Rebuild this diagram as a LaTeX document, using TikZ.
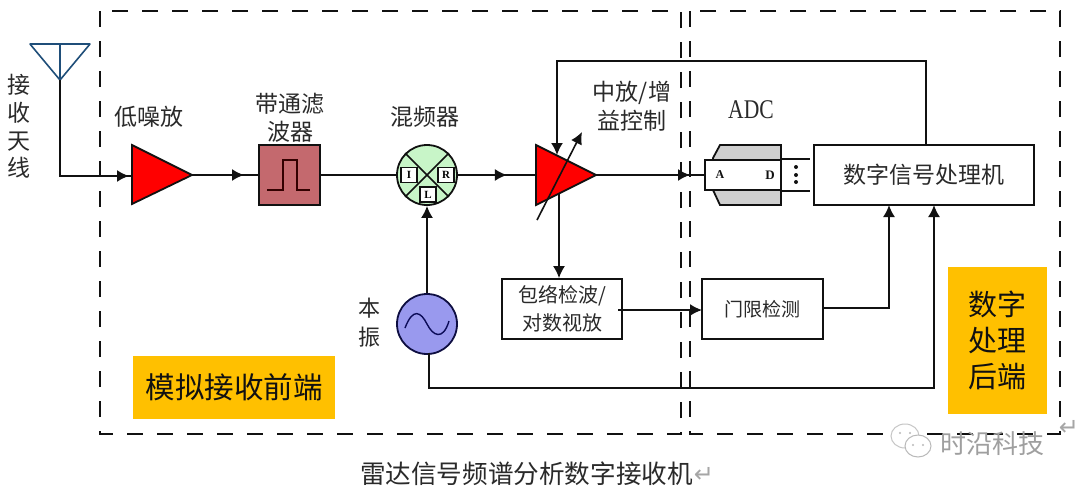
\documentclass[tikz,border=0pt]{standalone}
\usepackage{fontspec}
\setmainfont{Noto Sans CJK SC}
\newfontfamily\latinserif{Liberation Serif}
\newfontfamily\dejavu{DejaVu Sans}
\usetikzlibrary{arrows.meta,decorations.markings}
\newcommand{\pxsize}[1]{\fontsize{#1}{#1}\selectfont}
\definecolor{ink}{HTML}{111111}
\definecolor{antblue}{HTML}{1F4E79}
\definecolor{filterred}{HTML}{C4696E}
\definecolor{mixgreen}{HTML}{C8F5C8}
\definecolor{lopurple}{HTML}{9999EE}
\definecolor{tagorange}{HTML}{FFC000}
\definecolor{adcgray}{HTML}{CFCFCF}
\definecolor{lbl}{HTML}{2A2A2A}
\tikzset{
  x=1pt,y=-1pt,
  wire/.style={draw=ink,line width=1.7pt},
  tipend/.style={-{Latex[length=12pt,width=12pt]}},
  midtip/.style={postaction={decorate,decoration={markings,mark=at position #1 with {\arrow{Latex[length=12pt,width=12pt]}}}}},
  frame/.style={draw=ink,line width=2.2pt,dash pattern=on 16pt off 14pt},
  outline/.style={draw=ink,line width=1.8pt},
  boxnode/.style={outline,fill=white,inner sep=0pt,text=lbl},
  lab/.style={inner sep=0pt,text=lbl,font=\pxsize{23}},
  tag/.style={fill=tagorange,inner sep=0pt,text=ink},
  port/.style={draw=ink,line width=1.2pt,fill=white,minimum width=16pt,minimum height=15pt,inner sep=0pt,font=\latinserif\bfseries\pxsize{11}},
  retmark/.style={inner sep=0pt,text=gray!70,font=\dejavu\pxsize{24}},
}
\begin{document}
\begin{tikzpicture}
\useasboundingbox[fill=white] (0,0) rectangle (1080,491);
% dashed frames
\draw[frame] (100,11) rectangle (681,434);
\draw[frame] (690,11) rectangle (1060,434);
% tags
\node[tag,minimum width=202pt,minimum height=63pt,font=\pxsize{29.5}] (tagfront) at (234,387.5) {模拟接收前端};
\node[tag,minimum width=99pt,minimum height=147pt,font=\pxsize{29},align=center] (tagback) at (997.5,340.5) {数字\\[7pt]处理\\[7pt]后端};
% coordinates
\coordinate (antL) at (30,44); \coordinate (antR) at (90,44);
\coordinate (antT) at (60,44); \coordinate (antB) at (60,80);
\coordinate (antC) at (60,176);
\coordinate (lnaA) at (132,145); \coordinate (lnaB) at (132,204);
\coordinate (lnaIn) at (132,176); \coordinate (lnaOut) at (192,175);
\coordinate (vgaA) at (536,145); \coordinate (vgaB) at (536,205);
\coordinate (vgaIn) at (536,175); \coordinate (vgaOut) at (596,175);
\coordinate (vgaS) at (537,220); \coordinate (vgaE) at (582,132);
\coordinate (vgaTop) at (557,155); \coordinate (vgaLow) at (559,194);
% antenna
\draw[draw=antblue,line width=1.6pt,line join=round] (antL) -- (antR) -- (antB) -- cycle;
\draw[draw=antblue,line width=1.6pt] (antT) -- (antB);
\draw[wire,midtip=165pt] (antB) -- (antC) -- (lnaIn);
% filter
\node[boxnode,fill=filterred,minimum width=61pt,minimum height=60pt] (filt) at (289.5,175) {};
% mixer
\node[circle,outline,fill=mixgreen,minimum size=60pt,inner sep=0pt] (mix) at (427,175) {};
\draw[draw=ink,line width=1.6pt] (mix.north west) -- (mix.south east);
\draw[draw=ink,line width=1.6pt] (mix.north east) -- (mix.south west);
\node[port] (portI) at (409,175) {I};
\node[port] (portR) at (446,175) {R};
\node[port] (portL) at (428,194.5) {L};
% LO
\node[circle,draw=ink!80!blue,line width=1.8pt,fill=lopurple,minimum size=60pt,inner sep=0pt] (lo) at (427,324) {};
\draw[draw=ink!70!blue,line width=1.4pt] (405,328) .. controls (413,307) and (421,312) .. (427,324) .. controls (433,336) and (443,341) .. (449,321);
% wires between blocks
\draw[wire,midtip=52pt] (lnaOut) -- (filt.west);
\draw[wire,midtip=77pt] (filt.east) -- (mix.west);
\draw[wire,midtip=49pt] (mix.east) -- (vgaIn);
\draw[wire,tipend] (lo.north) -- (mix.south);
% ADC
\coordinate (g2) at (713,158);
\coordinate (g3) at (720,145); \coordinate (g4) at (781,145);
\coordinate (g5) at (781,205); \coordinate (g6) at (720,205);
\coordinate (g7) at (713,190);
\draw[outline,fill=adcgray] (g2) -- (g3) -- (g4) -- (g5) -- (g6) -- (g7) -- cycle;
\node[boxnode,minimum width=76pt,minimum height=30pt] (adc) at (743,175) {};
% DSP
\node[boxnode,minimum width=220pt,minimum height=60pt,font=\pxsize{23}] (dsp) at (924,175) {数字信号处理机};
\draw[outline,shorten >=3pt] (adc.north east) -- (adc.north east -| dsp.west);
\draw[outline,shorten >=3pt] (adc.south east) -- (adc.south east -| dsp.west);
\node[inner sep=0pt,text=ink,font=\latinserif\bfseries\pxsize{12}] (adcA) at (720,175) {A};
\node[inner sep=0pt,text=ink,font=\latinserif\bfseries\pxsize{13}] (adcD) at (770,175) {D};
\fill[ink] (796,167) circle (2pt) (796,175) circle (2pt) (796,182) circle (2pt);
% envelope / threshold
\node[boxnode,minimum width=120pt,minimum height=60pt,font=\pxsize{20},align=center] (env) at (562,309) {包络检波/\\[6pt]对数视放};
\node[boxnode,minimum width=121pt,minimum height=60pt,font=\pxsize{19}] (thr) at (762.5,309) {门限检测};
% amplifiers
\draw[wire,midtip=94pt] (vgaOut) -- (adc.west);
\draw[wire,tipend] (vgaLow) -- (vgaLow |- env.north);
\draw[outline,fill=red,line join=miter] (lnaA) -- (lnaOut) -- (lnaB) -- cycle;
\draw[outline,fill=red,line join=miter] (vgaA) -- (vgaOut) -- (vgaB) -- cycle;
\draw[wire,tipend,line width=1.6pt] (vgaS) -- (vgaE);
% feedback and lower wires
\coordinate (fbS) at (926,145); \coordinate (fbA) at (926,61); \coordinate (fbB) at (557,61);
\draw[wire,tipend] (fbS) -- (fbA) -- (fbB) -- (vgaTop);
\coordinate (envOut) at (618,310); \coordinate (thrIn) at (702,310);
\draw[wire,tipend] (envOut) -- (thrIn);
\coordinate (thrOut) at (823,308); \coordinate (thrC) at (889,308); \coordinate (dspA) at (889,205);
\draw[wire,tipend] (thrOut) -- (thrC) -- (dspA);
\coordinate (loD) at (429,353); \coordinate (loC) at (429,388); \coordinate (loE) at (934,388); \coordinate (dspB) at (934,205);
\draw[wire,tipend] (loD) -- (loC) -- (loE) -- (dspB);
% pulse inside filter
\draw[draw=black!80!red,line width=1.7pt] (267,190) -- (283,190) -- (283,160) -- (297,160) -- (297,190) -- (310,190);
% labels
\node[lab] (t1) at (19,85) {接};
\node[lab] (t2) at (19,113) {收};
\node[lab] (t3) at (19,142) {天};
\node[lab] (t4) at (19,168) {线};
\node[lab] (tlna) at (149,117) {低噪放};
\node[lab] (tf1) at (290,104) {带通滤};
\node[lab] (tf2) at (290,132) {波器};
\node[lab] (tmix) at (425,117) {混频器};
\node[lab] (tv1) at (632,93) {中放/增};
\node[lab] (tv2) at (632,121) {益控制};
\node[lab,font=\latinserif\pxsize{27},xscale=0.8,transform shape] (tadc) at (751,110) {ADC};
\node[lab,font=\pxsize{22}] (tlo1) at (369,308) {本};
\node[lab,font=\pxsize{22}] (tlo2) at (369,337) {振};
\node[lab,font=\pxsize{25.6}] (title) at (526.5,474) {雷达信号频谱分析数字接收机};
\node[retmark] (ret1) at (704,475) {↵};
\node[retmark] (ret2) at (1069,428) {↵};
% watermark
\fill[white,draw=gray!45,line width=1pt] (905,436) ellipse (14pt and 12pt);
\fill[white,draw=gray!55,line width=1pt] (918,446) ellipse (13pt and 11pt);
\fill[gray!55] (900,433) circle (1.2pt) (910,433) circle (1.2pt) (913,445) circle (1.2pt) (923,445) circle (1.2pt);
\node[inner sep=1pt,text=gray!75,font=\pxsize{26}] (wm) at (992,444) {时沿科技};
\end{tikzpicture}
\end{document}
